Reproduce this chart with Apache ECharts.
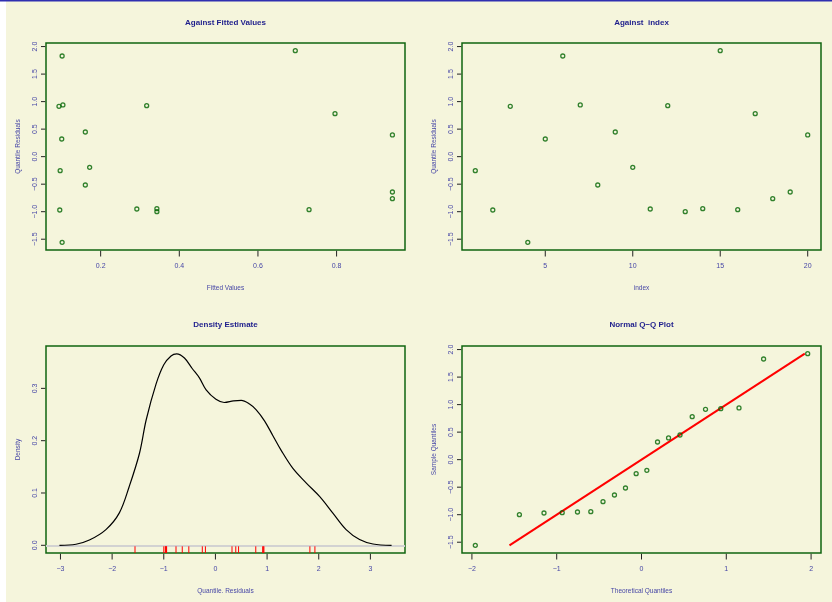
<!DOCTYPE html>
<html>
<head>
<meta charset="utf-8">
<script src="https://cdn.jsdelivr.net/npm/echarts@6/dist/echarts.min.js"></script>
<style>
html,body{margin:0;padding:0;background:#fff;}
#chart{width:832px;height:602px;}
</style>
</head>
<body>
<div id="chart"></div>
<script>
// ---- data ----
const obsIndex = [1,2,3,4,5,6,7,8,9,10,11,12,13,14,15,16,17,18,19,20];
const fittedValues = [0.097,0.096,0.094,0.102,0.101,0.102,0.104,0.161,0.161,0.172,0.292,0.317,0.343,0.343,0.695,0.730,0.796,0.942,0.942,0.942];
const quantileResiduals = [-0.254,-0.969,0.915,-1.557,0.321,1.829,0.939,-0.515,0.448,-0.194,-0.951,0.927,-0.999,-0.945,1.926,-0.963,0.781,-0.763,-0.642,0.394];

const qqTheoretical = [-1.960,-1.440,-1.150,-0.935,-0.755,-0.598,-0.454,-0.319,-0.189,-0.063,0.063,0.189,0.319,0.454,0.598,0.755,0.935,1.150,1.440,1.960];
const qqSample = [-1.557,-0.999,-0.969,-0.963,-0.951,-0.945,-0.763,-0.642,-0.515,-0.254,-0.194,0.321,0.394,0.448,0.781,0.915,0.927,0.939,1.829,1.926];
const qqLineX = [-1.557, 1.926];
const qqLineY = [-1.557, 1.926];

const densityX = [-3.02,-2.70,-2.44,-2.12,-1.86,-1.67,-1.47,-1.34,-1.15,-1.00,-0.86,-0.75,-0.60,-0.45,-0.31,-0.18,0.01,0.17,0.35,0.50,0.66,0.79,0.95,1.11,1.27,1.50,1.76,2.02,2.27,2.53,2.79,3.05,3.41];
const densityY = [0.000,0.002,0.010,0.030,0.062,0.112,0.176,0.240,0.308,0.345,0.362,0.366,0.358,0.338,0.320,0.297,0.279,0.273,0.276,0.277,0.270,0.259,0.238,0.210,0.182,0.147,0.119,0.093,0.062,0.030,0.011,0.0025,0.000];

const residTicks = [-1.5,-1.0,-0.5,0.0,0.5,1.0,1.5,2.0];
const residTickLabels = ['\u22121.5','\u22121.0','\u22120.5','0.0','0.5','1.0','1.5','2.0'];
const fittedTicks = [0.2,0.4,0.6,0.8];
const fittedTickLabels = ['0.2','0.4','0.6','0.8'];
const indexTicks = [5,10,15,20];
const indexTickLabels = ['5','10','15','20'];
const densXTicks = [-3,-2,-1,0,1,2,3];
const densXTickLabels = ['\u22123','\u22122','\u22121','0','1','2','3'];
const densYTicks = [0.0,0.1,0.2,0.3];
const densYTickLabels = ['0.0','0.1','0.2','0.3'];
const qqXTicks = [-2,-1,0,1,2];
const qqXTickLabels = ['\u22122','\u22121','0','1','2'];

const panelTitles = ['Against Fitted Values','Against  index','Density Estimate','Normal Q\u2212Q Plot'];
const xNames = ['Fitted Values','index','Quantile. Residuals','Theoretical Quantiles'];
const yNames = ['Quantile Residuals','Quantile Residuals','Density','Sample Quantiles'];

// ---- styling / layout ----
const FONT = '"Liberation Sans", Arial, Helvetica, sans-serif';
const LABEL_COLOR = '#4646a6';
const TITLE_COLOR = '#1e1e8c';
const BOX_COLOR = '#0f640f';
const PT_COLOR = '#006400';
const TICK_COLOR = '#222222';

const grids = [
  {left:46, top:43, width:359, height:207},
  {left:462, top:43, width:359, height:207},
  {left:46, top:346, width:359, height:207},
  {left:462, top:346, width:359, height:207}
];

function lab(ticks, labels){
  return function(v){
    for (let i=0;i<ticks.length;i++){ if (Math.abs(ticks[i]-v)<1e-9) return labels[i]; }
    return '';
  };
}
function xAxis(gi, min, max, ticks, labels){
  return {
    type:'value', gridIndex:gi, min:min, max:max,
    name:xNames[gi], nameLocation:'middle', nameGap:35,
    nameTextStyle:{color:LABEL_COLOR, fontSize:6.5, fontFamily:FONT},
    axisLine:{show:false, onZero:false},
    splitLine:{show:false},
    axisTick:{show:false},
    axisLabel:{customValues:ticks, formatter:lab(ticks,labels), color:LABEL_COLOR, fontSize:7, fontFamily:FONT, margin:13}
  };
}
function yAxis(gi, min, max, ticks, labels){
  return {
    type:'value', gridIndex:gi, min:min, max:max,
    name:yNames[gi], nameLocation:'middle', nameGap:24, nameRotate:90,
    nameTextStyle:{color:LABEL_COLOR, fontSize:6.5, fontFamily:FONT},
    axisLine:{show:false, onZero:false},
    splitLine:{show:false},
    axisTick:{show:false},
    axisLabel:{customValues:ticks, formatter:lab(ticks,labels), rotate:90, color:LABEL_COLOR, fontSize:7, fontFamily:FONT, margin:7}
  };
}

const resMin = -1.696, resMax = 2.065;
const densYMin = -0.0147, densYMax = 0.381;
const fitMin = 0.061, fitMax = 0.974;
const idxMin = 0.24, idxMax = 20.76;
const densXMin = -3.28, densXMax = 3.67;
const qqXMin = -2.117, qqXMax = 2.117;

const scatterStyle = {
  symbol:'circle', symbolSize:4,
  itemStyle:{color:'rgba(0,0,0,0)', borderColor:PT_COLOR, borderWidth:1.3}
};

const titleGraphics = panelTitles.map((t,i)=>({
  type:'text',
  x: grids[i].left + grids[i].width/2,
  y: i<2 ? 23 : 325,
  style:{text:t, fill:TITLE_COLOR, font:'bold 8px '+FONT, textAlign:'center', textVerticalAlign:'middle'},
  silent:true
}));

const option = {
  backgroundColor:'#f5f5dc',
  animation:false,
  grid: grids.map(g=>Object.assign({show:true, borderColor:BOX_COLOR, borderWidth:1.5}, g)),
  xAxis:[
    xAxis(0, fitMin, fitMax, fittedTicks, fittedTickLabels),
    xAxis(1, idxMin, idxMax, indexTicks, indexTickLabels),
    xAxis(2, densXMin, densXMax, densXTicks, densXTickLabels),
    xAxis(3, qqXMin, qqXMax, qqXTicks, qqXTickLabels)
  ],
  yAxis:[
    yAxis(0, resMin, resMax, residTicks, residTickLabels),
    yAxis(1, resMin, resMax, residTicks, residTickLabels),
    yAxis(2, densYMin, densYMax, densYTicks, densYTickLabels),
    yAxis(3, resMin, resMax, residTicks, residTickLabels)
  ],
  graphic:[
    {type:'rect', shape:{x:0,y:0,width:6,height:602}, style:{fill:'#ffffff'}, silent:true},
    {type:'rect', shape:{x:0,y:0,width:832,height:1.5}, style:{fill:'#2e2eb0'}, silent:true}
  ].concat(titleGraphics),
  series:[
    Object.assign({type:'scatter', xAxisIndex:0, yAxisIndex:0,
      data: fittedValues.map((f,i)=>[f, quantileResiduals[i]])}, scatterStyle),
    Object.assign({type:'scatter', xAxisIndex:1, yAxisIndex:1,
      data: obsIndex.map((k,i)=>[k, quantileResiduals[i]])}, scatterStyle),
    {type:'line', xAxisIndex:2, yAxisIndex:2, showSymbol:false, smooth:0.35,
      data: densityX.map((x,i)=>[x, densityY[i]]),
      lineStyle:{color:'#000', width:1.2}, z:3,
      markLine:{silent:true, symbol:['none','none'], label:{show:false},
        lineStyle:{color:'#d2d2d2', width:2, type:'solid'},
        data:[{yAxis:0}], z:2}
    },
    {type:'custom', xAxisIndex:2, yAxisIndex:2, z:4,
      data: quantileResiduals.map(v=>[v]),
      renderItem:function(params, api){
        const x = api.value(0);
        const p0 = api.coord([x, 0]);
        const p1 = api.coord([x, densYMin]);
        return {type:'line', shape:{x1:p0[0], y1:p0[1]+1, x2:p1[0], y2:p1[1]},
          style:{stroke:'#ff0000', lineWidth:1}};
      }
    },
    {type:'line', xAxisIndex:3, yAxisIndex:3, showSymbol:false,
      data: qqLineX.map((x,i)=>[x, qqLineY[i]]),
      lineStyle:{color:'#ff0000', width:2}, z:2},
    Object.assign({type:'scatter', xAxisIndex:3, yAxisIndex:3, z:3,
      data: qqTheoretical.map((x,i)=>[x, qqSample[i]])}, scatterStyle)
  ]
};

const chart = echarts.init(document.getElementById('chart'), null, {renderer:'canvas'});
chart.setOption(option);

// tick marks outside each box, placed through the axis scales
const tickSpecs = [
  {gi:0, xt:fittedTicks, xMin:fitMin, yt:residTicks, yMin:resMin},
  {gi:1, xt:indexTicks, xMin:idxMin, yt:residTicks, yMin:resMin},
  {gi:2, xt:densXTicks, xMin:densXMin, yt:densYTicks, yMin:densYMin},
  {gi:3, xt:qqXTicks, xMin:qqXMin, yt:residTicks, yMin:resMin}
];
try {
  const zr = chart.getZr();
  tickSpecs.forEach(function(s){
    const finder = {xAxisIndex:s.gi, yAxisIndex:s.gi};
    s.xt.forEach(function(v){
      const p = chart.convertToPixel(finder, [v, s.yMin]);
      zr.add(new echarts.graphic.Line({shape:{x1:p[0], y1:p[1]+0.75, x2:p[0], y2:p[1]+6.5},
        style:{stroke:TICK_COLOR, lineWidth:1}, z:100, silent:true}));
    });
    s.yt.forEach(function(v){
      const p = chart.convertToPixel(finder, [s.xMin, v]);
      zr.add(new echarts.graphic.Line({shape:{x1:p[0]-0.75, y1:p[1], x2:p[0]-5, y2:p[1]},
        style:{stroke:TICK_COLOR, lineWidth:1}, z:100, silent:true}));
    });
  });
} catch(e) { console.error(e); }
</script>
</body>
</html>
